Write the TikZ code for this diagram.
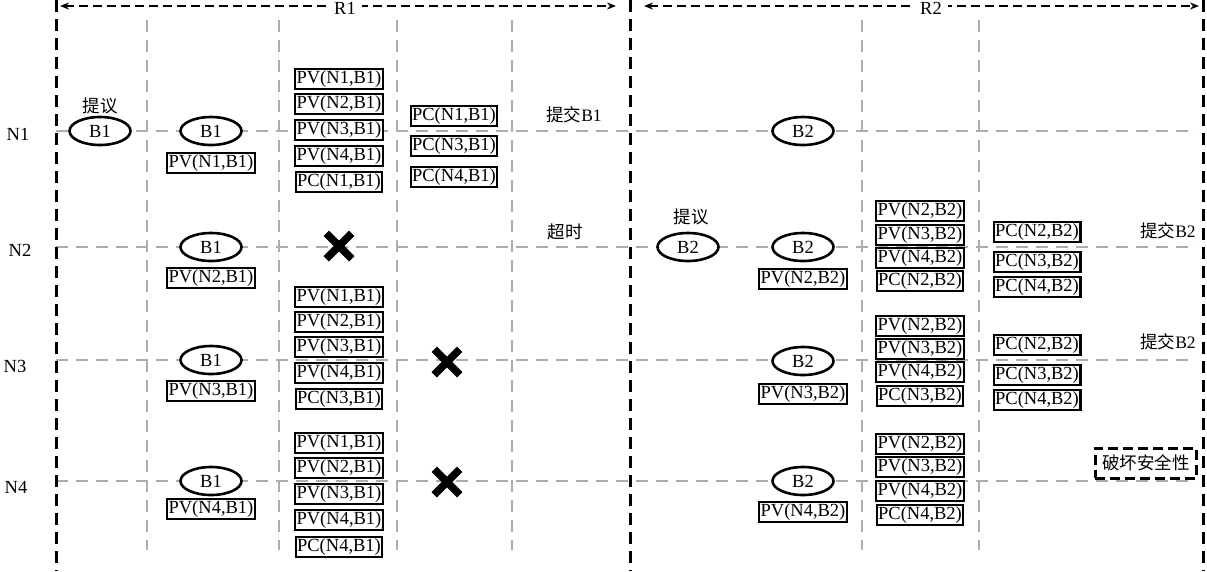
\documentclass[tikz,border=0pt]{standalone}
\usepackage{fontspec}
\setmainfont{Liberation Serif}
\newfontfamily\cjk{Noto Sans CJK SC}
\usetikzlibrary{shapes.geometric,shapes.misc,arrows.meta}
\tikzset{
  blkline/.style={draw=black, line width=3pt, dash pattern=on 12pt off 7pt},
  grline/.style={draw=black!32, line width=2.8pt, dash pattern=on 12pt off 8pt},
  rarrow/.style={draw=black, line width=2.2pt, dash pattern=on 9pt off 5pt, {Stealth[length=9pt,width=7pt]}-{Stealth[length=9pt,width=7pt]}},
  msg/.style={draw, line width=2.2pt, fill=white, inner xsep=1.5pt, inner ysep=0pt, minimum height=20pt, font=\fontsize{18.5}{18.5}\selectfont},
  blk/.style={ellipse, draw, line width=2.6pt, fill=white, minimum width=61pt, minimum height=28pt, inner sep=0pt, font=\fontsize{18.5}{18.5}\selectfont},
  txt/.style={font=\fontsize{18.5}{18.5}\selectfont, inner sep=1pt},
  cn/.style={font=\fontsize{17.5}{17.5}\selectfont, inner sep=1pt},
  xmark/.style={cross out, draw, line width=7.5pt, minimum size=18pt, inner sep=0pt},
  warn/.style={draw, line width=3pt, dash pattern=on 10pt off 5pt, fill=white, inner xsep=7pt, minimum height=30pt, font=\fontsize{17.5}{17.5}\selectfont}
}
\begin{document}
\begin{tikzpicture}[x=1pt,y=-1pt]
\useasboundingbox (0,0) rectangle (1207,571);
% grey grid
\foreach \gx in {147,279,397,512,862,979} \draw[grline] (\gx,20) -- (\gx,550);
\foreach \gy in {131,247,360,481} \draw[grline] (56,\gy) -- (1196,\gy);
% round borders
\foreach \bx in {56,630,1203} \draw[blkline] (\bx,0) -- (\bx,571);
% round arrows
\coordinate (r1a) at (60,6);
\coordinate (r1b) at (616,6);
\coordinate (r2a) at (644,6);
\coordinate (r2b) at (1199,6);
\draw[rarrow] (r1a) -- (r1b);
\draw[rarrow] (r2a) -- (r2b);
\node[txt, fill=white, inner xsep=6pt] (R1) at (345,8) {R1};
\node[txt, fill=white, inner xsep=6pt] (R2) at (931,8) {R2};
% row labels
\node[txt] (n1) at (18,134) {N1};
\node[txt] (n2) at (20,250) {N2};
\node[txt] (n3) at (15,366) {N3};
\node[txt] (n4) at (16,487) {N4};
% ---------------- R1 ----------------
\node[cn] (prop1) at (100,106) {\cjk 提议};
\node[blk] (b1a) at (100,131) {B1};
\node[blk] (b1b) at (211,131) {B1};
\node[msg] (pv11) at (211,163) {PV(N1,B1)};
\node[blk] (b1c) at (211,247) {B1};
\node[msg] (pv21) at (211,278) {PV(N2,B1)};
\node[blk] (b1d) at (211,360) {B1};
\node[msg] (pv31) at (211,391) {PV(N3,B1)};
\node[blk] (b1e) at (211,481) {B1};
\node[msg] (pv41) at (211,509) {PV(N4,B1)};
% N1 stack
\node[msg] (a1) at (339,79) {PV(N1,B1)};
\node[msg] (a2) at (339,104) {PV(N2,B1)};
\node[msg] (a3) at (339,130) {PV(N3,B1)};
\node[msg] (a4) at (339,156) {PV(N4,B1)};
\node[msg] (a5) at (339,182) {PC(N1,B1)};
\node[msg] (c1) at (454,116) {PC(N1,B1)};
\node[msg] (c2) at (454,146) {PC(N3,B1)};
\node[msg] (c3) at (454,177) {PC(N4,B1)};
\node[cn] (commit1) at (574,115) {{\cjk 提交}B1};
% N2
\node[xmark] (x1) at (339,246) {};
\node[cn] (timeout) at (565,232) {\cjk 超时};
% N3 stack
\node[msg] (d1) at (339,297) {PV(N1,B1)};
\node[msg] (d2) at (339,322) {PV(N2,B1)};
\node[msg] (d3) at (339,347) {PV(N3,B1)};
\node[msg] (d4) at (339,373) {PV(N4,B1)};
\node[msg] (d5) at (339,399) {PC(N3,B1)};
\node[xmark] (x2) at (447,362) {};
% N4 stack
\node[msg] (e1) at (339,443) {PV(N1,B1)};
\node[msg] (e2) at (339,468) {PV(N2,B1)};
\node[msg] (e3) at (339,494) {PV(N3,B1)};
\node[msg] (e4) at (339,520) {PV(N4,B1)};
\node[msg] (e5) at (339,547) {PC(N4,B1)};
\node[xmark] (x3) at (447,482) {};
% ---------------- R2 ----------------
\node[blk] (b2a) at (803,131) {B2};
\node[cn] (prop2) at (691,217) {\cjk 提议};
\node[blk] (b2p) at (688,247) {B2};
\node[blk] (b2b) at (803,247) {B2};
\node[msg] (q2) at (803,279) {PV(N2,B2)};
\node[blk] (b2c) at (803,361) {B2};
\node[msg] (q3) at (803,394) {PV(N3,B2)};
\node[blk] (b2d) at (803,481) {B2};
\node[msg] (q4) at (803,512) {PV(N4,B2)};
% N2 stack
\node[msg] (f1) at (920,211) {PV(N2,B2)};
\node[msg] (f2) at (920,235) {PV(N3,B2)};
\node[msg] (f3) at (920,258) {PV(N4,B2)};
\node[msg] (f4) at (920,281) {PC(N2,B2)};
\node[msg] (g1) at (1037,232) {PC(N2,B2)};
\node[msg] (g2) at (1037,262) {PC(N3,B2)};
\node[msg] (g3) at (1037,287) {PC(N4,B2)};
\node[cn] (commit2) at (1168,231) {{\cjk 提交}B2};
% N3 stack
\node[msg] (h1) at (920,326) {PV(N2,B2)};
\node[msg] (h2) at (920,349) {PV(N3,B2)};
\node[msg] (h3) at (920,372) {PV(N4,B2)};
\node[msg] (h4) at (920,396) {PC(N3,B2)};
\node[msg] (k1) at (1037,345) {PC(N2,B2)};
\node[msg] (k2) at (1037,375) {PC(N3,B2)};
\node[msg] (k3) at (1037,400) {PC(N4,B2)};
\node[cn] (commit3) at (1168,342) {{\cjk 提交}B2};
% N4 stack
\node[msg] (m1) at (920,444) {PV(N2,B2)};
\node[msg] (m2) at (920,467) {PV(N3,B2)};
\node[msg] (m3) at (920,491) {PV(N4,B2)};
\node[msg] (m4) at (920,515) {PC(N4,B2)};
\node[warn] (unsafe) at (1146,463) {\cjk 破坏安全性};
\end{tikzpicture}
\end{document}
